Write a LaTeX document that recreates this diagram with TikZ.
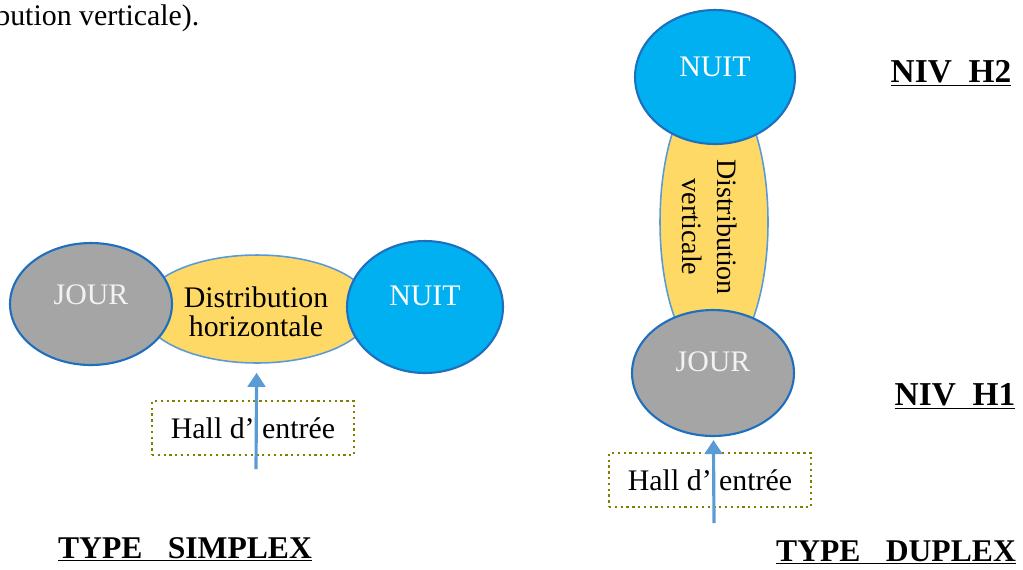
\documentclass[tikz,border=0pt]{standalone}
\usepackage{fontspec}
\setmainfont{Liberation Serif}
\usepackage{tikz}
\usetikzlibrary{shapes.geometric,arrows.meta}

\definecolor{jourgray}{HTML}{A5A5A5}
\definecolor{nuitblue}{HTML}{00B0F0}
\definecolor{rimblue}{HTML}{1F6FBF}
\definecolor{distyellow}{HTML}{FFD966}
\definecolor{lightrim}{HTML}{5B9BD5}
\definecolor{hallolive}{HTML}{808000}

\begin{document}
\begin{tikzpicture}[x=0.02cm,y=-0.02cm,
    room/.style={ellipse, draw=rimblue, line width=1.2pt, inner sep=0pt},
    dist/.style={ellipse, draw=lightrim, line width=0.9pt, fill=distyellow, inner sep=0pt},
    roomtxt/.style={font=\fontsize{17}{20}\selectfont, text=white, inner sep=0pt},
    txt/.style={font=\fontsize{17}{16.5}\selectfont, align=center, inner sep=0pt},
    hall/.style={draw=hallolive, dotted, line width=1.3pt, minimum width=4.04cm, minimum height=1.07cm,
        font=\fontsize{17}{20}\selectfont},
    niv/.style={font=\fontsize{19}{22}\selectfont\bfseries, anchor=base, inner sep=0pt},
    entry/.style={draw=lightrim, line width=1.8pt, -{Triangle[width=10pt,length=8pt]}}]
    \useasboundingbox (0,0) rectangle (1023,569);

    % Text cut off at the top
    \node[anchor=base west, inner sep=0pt, font=\fontsize{17}{20}\selectfont] (intro) at (-5,25) {bution verticale).};

    % Simplex: horizontal distribution
    \node[dist, minimum width=4.6cm, minimum height=2.16cm] (dh) at (257,309) {};
    \node[room, fill=jourgray, minimum width=3.24cm, minimum height=2.44cm] (jour1) at (91,304) {};
    \node[room, fill=nuitblue, minimum width=3.12cm, minimum height=2.64cm] (nuit1) at (425,307) {};
    \node[roomtxt, text=black!5] (jour1T) at (91,295) {JOUR};
    \node[roomtxt] (nuit1T) at (425,296) {NUIT};
    \node[txt] (dhT) at (256,312) {Distribution\\horizontale};

    % Simplex: entrance
    \node[hall] (hall1) at (253,428) {Hall d' entrée};
    \coordinate (in1) at (256,469);
    \draw[entry, shorten >=0.18cm] (in1) -- (dh);

    % Duplex: vertical distribution
    \node[dist, minimum width=2.16cm, minimum height=5.6cm] (dv) at (714,222) {};
    \node[room, fill=nuitblue, minimum width=3.2cm, minimum height=2.68cm] (nuit2) at (715,77) {};
    \node[room, fill=jourgray, minimum width=3.24cm, minimum height=2.52cm] (jour2) at (713,373) {};
    \node[roomtxt] (nuit2T) at (715,67) {NUIT};
    \node[roomtxt, text=black!5] (jour2T) at (713,362) {JOUR};
    \node[txt, rotate=-90, font=\fontsize{16}{20}\selectfont] (dvT) at (710,227) {Distribution\\verticale};

    % Duplex: entrance
    \node[hall] (hall2) at (710,480) {Hall d' entrée};
    \coordinate (in2) at (714,523);
    \draw[entry, shorten >=0.06cm] (in2) -- (jour2);

    % Levels and titles
    \node[niv] (h2) at (951,82) {\underline{NIV\ \ H2}};
    \node[niv] (h1) at (955,405) {\underline{NIV\ \ H1}};
    \node[niv, font=\fontsize{18}{22}\selectfont\bfseries] (simplex) at (185,558) {\underline{TYPE\hspace{0.8em}SIMPLEX}};
    \node[niv, font=\fontsize{18}{22}\selectfont\bfseries] (duplex) at (896,561) {\underline{TYPE\hspace{0.8em}DUPLEX}};
\end{tikzpicture}
\end{document}
